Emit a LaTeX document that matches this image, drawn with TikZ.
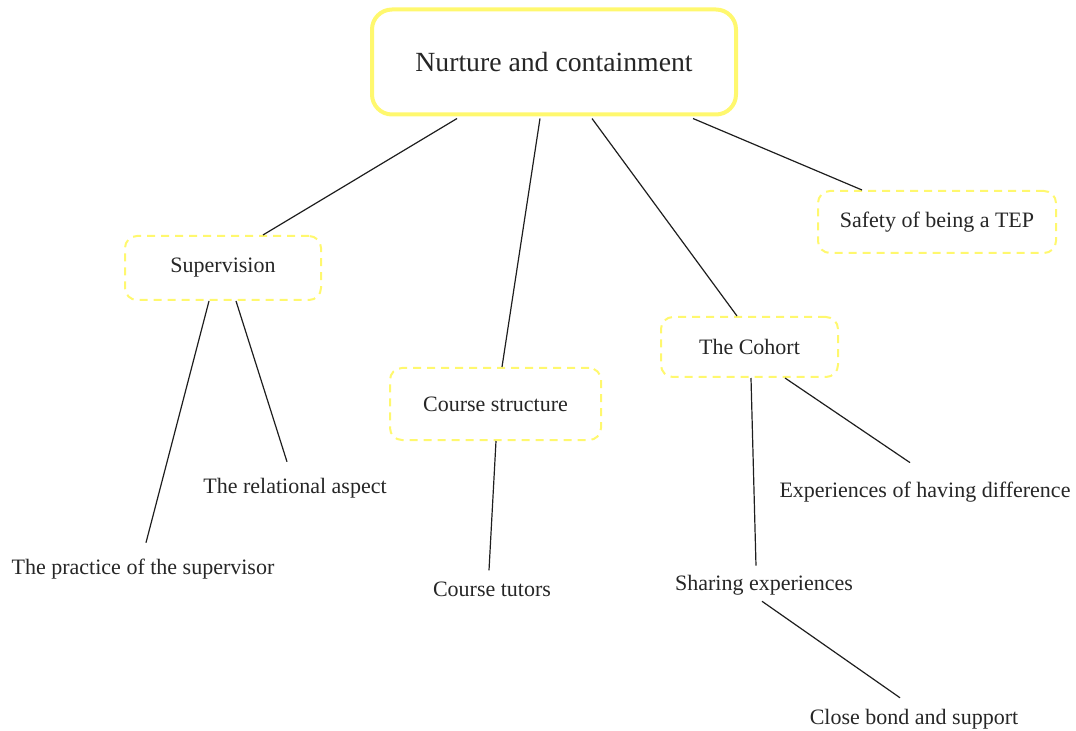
\documentclass[tikz,border=0pt]{standalone}
\usepackage{fontspec}
\setmainfont{Liberation Serif}
\usetikzlibrary{calc}
\definecolor{hiyellow}{RGB}{255,248,110}
\definecolor{inkline}{RGB}{30,30,30}
\begin{document}
\begin{tikzpicture}[x=0.75pt,y=-0.75pt,
  rootbox/.style={draw=hiyellow,line width=3pt,rounded corners=15pt,fill=white,
    minimum width=273pt,minimum height=78.75pt,font=\fontsize{20.8pt}{24pt}\selectfont,text=black!85},
  subbox/.style={draw=hiyellow,line width=1.5pt,dash pattern=on 6pt off 4.5pt,rounded corners=9pt,
    font=\fontsize{16.5pt}{19pt}\selectfont,text=black!85},
  leaf/.style={font=\fontsize{16.5pt}{19pt}\selectfont,text=black!85,inner sep=0pt},
  link/.style={draw=inkline,line width=0.9pt}]
\useasboundingbox (0,0) rectangle (1076,731);

% main topic and subtopics
\node[rootbox] (top) at (554,62) {Nurture and containment};
\node[subbox,minimum width=147pt,minimum height=48pt] (sup) at (223,268) {Supervision};
\node[subbox,minimum width=178.5pt,minimum height=46.5pt] (safe) at (937,222) {Safety of being a TEP};
\node[subbox,minimum width=158.25pt,minimum height=54pt] (course) at (495.5,404) {Course structure};
\node[subbox,minimum width=132.75pt,minimum height=45pt] (cohort) at (749.5,347) {The Cohort};

% leaf topics
\node[leaf] (rel) at (295,488) {The relational aspect};
\node[leaf] (prac) at (143,569) {The practice of the supervisor};
\node[leaf] (tutor) at (492,589) {Course tutors};
\node[leaf] (diff) at (925,492) {Experiences of having difference};
\node[leaf] (share) at (764,585) {Sharing experiences};
\node[leaf] (bond) at (914,719) {Close bond and support};

% connectors
\draw[link] ($(top.south)+(-97,2)$) -- ($(sup.north)+(40,0)$);
\draw[link] ($(top.south)+(-14,2)$) -- ($(course.north)+(6.5,0)$);
\draw[link] ($(top.south)+(38,2)$) -- ($(cohort.north)+(-12.5,0)$);
\draw[link] ($(top.south)+(139,2)$) -- ($(safe.north)+(-75,0)$);
\draw[link] ($(sup.south)+(-14,0)$) -- ($(prac.north)+(3,-16)$);
\draw[link] ($(sup.south)+(13,0)$) -- ($(rel.north)+(-8,-16)$);
\draw[link] ($(course.south)+(0.5,0)$) -- ($(tutor.north)+(-3,-11)$);
\draw[link] ($(cohort.south)+(1.5,0)$) -- ($(share.north)+(-8,-9)$);
\draw[link] ($(cohort.south)+(35.5,0)$) -- ($(diff.north)+(-15,-19)$);
\draw[link] ($(share.south)+(-2,6)$) -- ($(bond.north)+(-14,-11)$);
\end{tikzpicture}
\end{document}
